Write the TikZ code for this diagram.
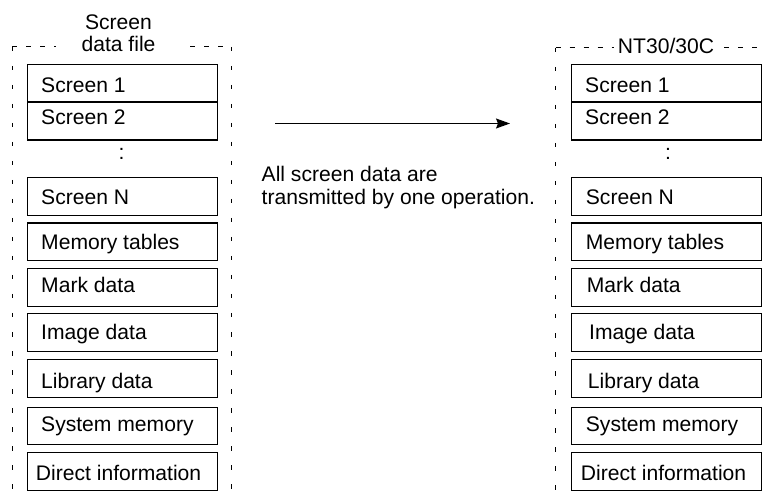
\documentclass[tikz,border=0pt]{standalone}
\usepackage{fontspec}
\setmainfont{Liberation Sans}
\usetikzlibrary{arrows.meta}
\begin{document}
\begin{tikzpicture}[x=1pt,y=-1pt,
  box/.style={draw, line width=1.1pt, minimum width=189.5pt, inner sep=0pt, anchor=north west},
  lbl/.style={anchor=base west, inner sep=0pt, font=\fontsize{21.1}{24}\selectfont},
  txt/.style={inner sep=0pt, font=\fontsize{21.1}{24}\selectfont},
  hframe/.style={line width=1pt, dash pattern=on 5pt off 9pt},
  vframe/.style={line width=1pt, dash pattern=on 4.5pt off 14.5pt}]
\useasboundingbox (0,0) rectangle (765,502);

% dashed frames
\coordinate (LTL) at (12,47);
\coordinate (LTa) at (56,47);
\coordinate (LTb) at (190,47);
\coordinate (LTR) at (231,47);
\coordinate (LBL) at (12,502);
\coordinate (LBR) at (231,502);
\draw[hframe] (LTL) -- (LTa);
\draw[hframe] (LTb) -- (LTR);
\draw[vframe] (LTL) -- (LBL);
\draw[vframe] (LTR) -- (LBR);

\coordinate (RTL) at (555.5,48);
\coordinate (RTa) at (614,48);
\coordinate (RTb) at (724,48);
\coordinate (RTR) at (765,48);
\coordinate (RBL) at (555.5,502);
\draw[hframe] (RTL) -- (RTa);
\draw[hframe] (RTb) -- (RTR);
\draw[vframe] (RTL) -- (RBL);

% headers
\node[txt, anchor=base] (hl1) at (118.5,30) {Screen};
\node[txt, anchor=base] (hl2) at (118.5,52) {data file};
\node[txt, anchor=base] (hr) at (666,54) {NT30/30C};

% left boxes
\node[box, minimum height=37.5pt] (l1) at (27,64) {};
\node[box, minimum height=38pt] (l2) at (27,101.5) {};
\node[box, minimum height=38pt] (lN) at (27,177) {};
\node[box, minimum height=37.5pt] (lmt) at (27,222.5) {};
\node[box, minimum height=38pt] (lmd) at (27,268) {};
\node[box, minimum height=37.5pt] (lid) at (27,313.3) {};
\node[box, minimum height=37.5pt] (lld) at (27,359) {};
\node[box, minimum height=37.5pt] (lsm) at (27,406.7) {};
\node[box, minimum height=38pt] (ldi) at (27,451.7) {};

\node[lbl] (tl1) at (41,92.3) {Screen 1};
\node[lbl] (tl2) at (41,125) {Screen 2};
\node[txt, anchor=base] (cl) at (121.5,160) {:};
\node[lbl] (tlN) at (41,204.3) {Screen N};
\node[lbl] (tlmt) at (41,249.3) {Memory tables};
\node[lbl] (tlmd) at (41,292.7) {Mark data};
\node[lbl] (tlid) at (41,339.3) {Image data};
\node[lbl] (tlld) at (41,388.3) {Library data};
\node[lbl] (tlsm) at (41,431.7) {System memory};
\node[lbl] (tldi) at (35.7,480) {Direct information};

% right boxes
\node[box, minimum height=37.5pt] (r1) at (571,64) {};
\node[box, minimum height=38pt] (r2) at (571,101.5) {};
\node[box, minimum height=38pt] (rN) at (571,177) {};
\node[box, minimum height=37.5pt] (rmt) at (571,222.5) {};
\node[box, minimum height=38pt] (rmd) at (571,268) {};
\node[box, minimum height=37.5pt] (rid) at (571,313.3) {};
\node[box, minimum height=37.5pt] (rld) at (571,359) {};
\node[box, minimum height=37.5pt] (rsm) at (571,406.7) {};
\node[box, minimum height=38pt] (rdi) at (571,451.7) {};

\node[lbl] (tr1) at (585,92.3) {Screen 1};
\node[lbl] (tr2) at (585,125) {Screen 2};
\node[txt, anchor=base] (cr) at (668,160) {:};
\node[lbl] (trN) at (585.7,204.3) {Screen N};
\node[lbl] (trmt) at (585.7,249.3) {Memory tables};
\node[lbl] (trmd) at (586.7,292.7) {Mark data};
\node[lbl] (trid) at (589,339.3) {Image data};
\node[lbl] (trld) at (587.7,388.3) {Library data};
\node[lbl] (trsm) at (585.7,431.7) {System memory};
\node[lbl] (trdi) at (580.7,480) {Direct information};

% arrow and caption
\coordinate (a1) at (275,123.5);
\coordinate (a2) at (510,123.5);
\draw[line width=1.1pt, -{Stealth[length=14pt, width=10pt, inset=2pt]}] (a1) -- (a2);
\node[lbl] (c1) at (261.5,181.7) {All screen data are};
\node[lbl] (c2) at (261.5,205) {transmitted by one operation.};
\end{tikzpicture}
\end{document}
